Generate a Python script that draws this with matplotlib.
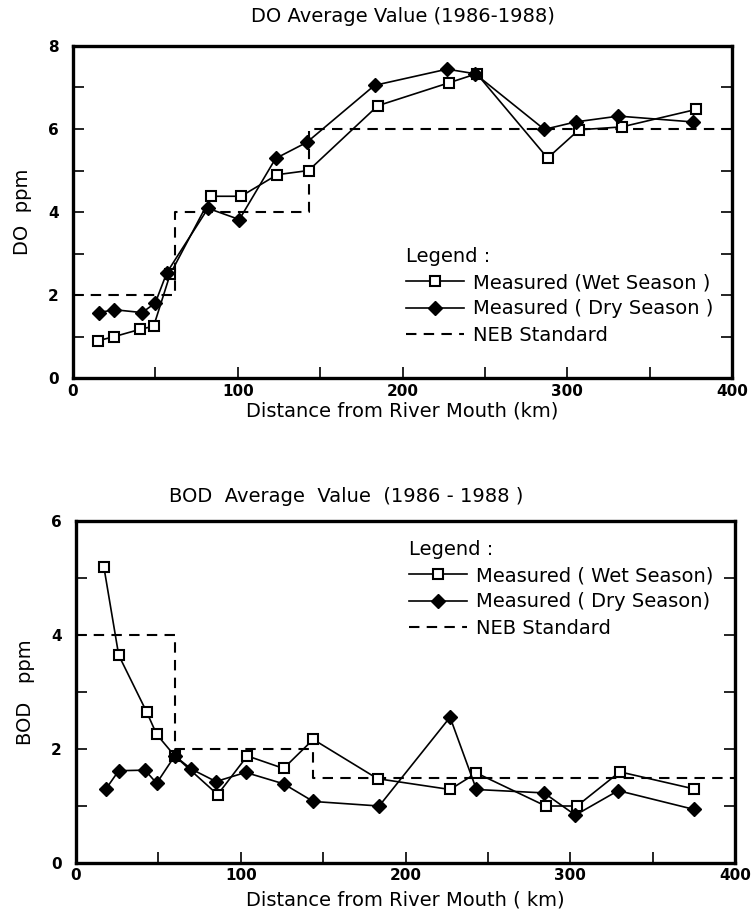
import matplotlib
matplotlib.use("Agg")
import matplotlib.pyplot as plt
from matplotlib.ticker import MultipleLocator

plt.rcParams["font.family"] = ["DejaVu Sans"]

# --- DO (top panel) ---
do_wet_km = [15, 25, 41, 49, 59, 84, 102, 124, 143, 185, 228, 245, 288, 307, 333, 378]
do_wet_val = [0.9, 1.0, 1.18, 1.25, 2.5, 4.38, 4.38, 4.9, 5.0, 6.56, 7.11, 7.33, 5.3, 5.98, 6.05, 6.47]
do_dry_km = [16, 25, 42, 50, 57, 82, 101, 123, 142, 183, 227, 244, 286, 305, 331, 376]
do_dry_val = [1.58, 1.65, 1.58, 1.81, 2.54, 4.09, 3.82, 5.29, 5.68, 7.05, 7.44, 7.33, 5.99, 6.17, 6.31, 6.17]
do_std_km = [0, 62, 62, 143, 143, 400]
do_std_val = [2, 2, 4, 4, 6, 6]

# --- BOD (bottom panel) ---
bod_wet_km = [17, 26, 43, 49, 60, 86, 104, 126, 144, 183, 227, 243, 285, 304, 330, 375]
bod_wet_val = [5.2, 3.65, 2.65, 2.26, 1.88, 1.2, 1.88, 1.66, 2.17, 1.48, 1.29, 1.58, 1.0, 1.0, 1.6, 1.3]
bod_dry_km = [18, 26, 42, 49, 60, 70, 85, 103, 126, 144, 184, 227, 243, 284, 303, 329, 375]
bod_dry_val = [1.29, 1.62, 1.63, 1.4, 1.88, 1.65, 1.43, 1.59, 1.39, 1.08, 1.0, 2.56, 1.29, 1.23, 0.84, 1.27, 0.94]
bod_std_km = [0, 60, 60, 144, 144, 400]
bod_std_val = [4, 4, 2, 2, 1.5, 1.5]

fig = plt.figure(figsize=(7.51, 9.18), dpi=100)
ax1 = fig.add_axes([0.097, 0.588, 0.878, 0.362])
ax2 = fig.add_axes([0.101, 0.060, 0.878, 0.372])

FS = 14
TFS = 11


def draw_panel(ax, wet_x, wet_y, dry_x, dry_y, std_x, std_y, ymax, wet_lbl, dry_lbl, legend_anchor):
    ax.plot(std_x, std_y, color="black", lw=1.5, dashes=(5, 3.5), label="NEB Standard", zorder=2)
    ax.plot(wet_x, wet_y, color="black", lw=1.2, marker="s", ms=7, mfc="white", mec="black",
            mew=1.5, label=wet_lbl, zorder=3)
    ax.plot(dry_x, dry_y, color="black", lw=1.2, marker="D", ms=7.5, mfc="black", mec="black",
            label=dry_lbl, zorder=4)
    ax.set_xlim(0, 400)
    ax.set_ylim(0, ymax)
    ax.xaxis.set_major_locator(MultipleLocator(100))
    ax.xaxis.set_minor_locator(MultipleLocator(50))
    ax.yaxis.set_major_locator(MultipleLocator(2))
    ax.yaxis.set_minor_locator(MultipleLocator(1))
    ax.tick_params(which="both", direction="in", right=True, top=False, width=1.2)
    ax.tick_params(which="major", length=8, labelsize=TFS)
    ax.tick_params(which="minor", length=8)
    ax.tick_params(axis="y", pad=10)
    ax.tick_params(axis="x", pad=4)
    for sp in ax.spines.values():
        sp.set_linewidth(2.4)
    for lab in ax.get_xticklabels() + ax.get_yticklabels():
        lab.set_fontweight("bold")

    h, l = ax.get_legend_handles_labels()
    order = [1, 2, 0]
    leg = ax.legend([h[i] for i in order], [l[i] for i in order], title="Legend :",
                    loc="upper left", bbox_to_anchor=legend_anchor, frameon=False,
                    fontsize=FS, title_fontsize=FS, handlelength=3.0, handletextpad=0.45,
                    labelspacing=0.38, alignment="left", borderpad=0)
    return leg


draw_panel(ax1, do_wet_km, do_wet_val, do_dry_km, do_dry_val, do_std_km, do_std_val, 8,
           "Measured (Wet Season )", "Measured ( Dry Season )", (0.49, 0.425))
ax1.set_title("DO Average Value (1986-1988)", fontsize=FS, pad=17)
ax1.set_xlabel("Distance from River Mouth (km)", fontsize=FS, labelpad=2)
ax1.set_ylabel("DO  ppm", fontsize=FS, labelpad=12)

draw_panel(ax2, bod_wet_km, bod_wet_val, bod_dry_km, bod_dry_val, bod_std_km, bod_std_val, 6,
           "Measured ( Wet Season)", "Measured ( Dry Season)", (0.49, 0.975))
ax2.set_title("BOD  Average  Value  (1986 - 1988 )", fontsize=FS, pad=14, x=0.41)
ax2.set_xlabel("Distance from River Mouth ( km)", fontsize=FS, labelpad=5)
ax2.set_ylabel("BOD   ppm", fontsize=FS, labelpad=12)

fig.savefig("out.png", dpi=100)
